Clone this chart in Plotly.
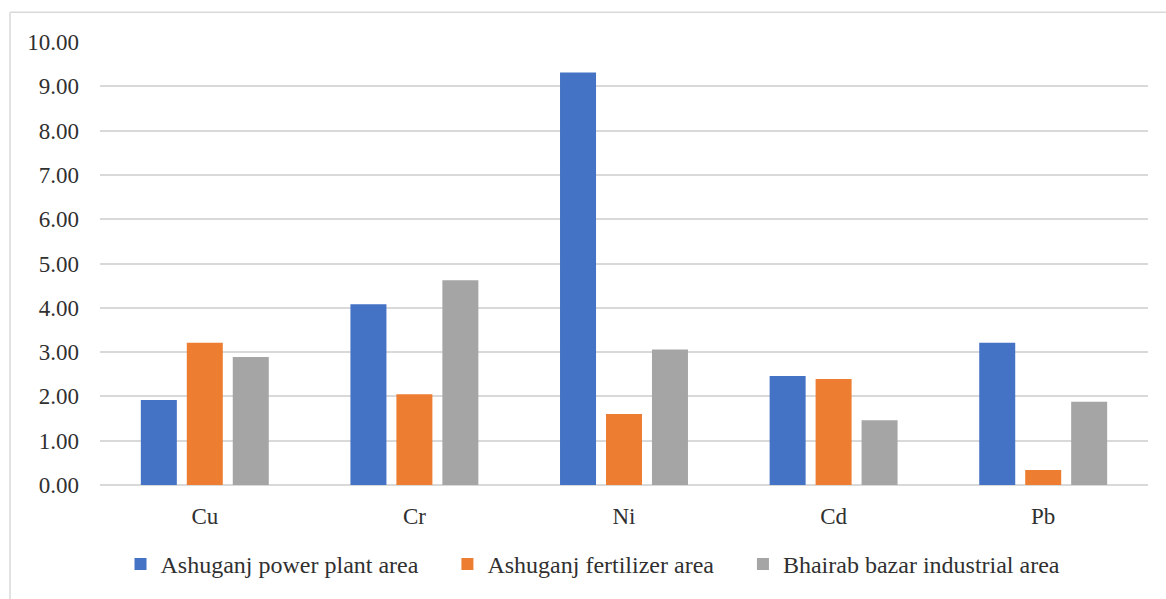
import plotly.graph_objects as go

# Heavy metal concentrations by element and sampling area
metals = ["Cu", "Cr", "Ni", "Cd", "Pb"]
power_plant = [1.92, 4.08, 9.31, 2.46, 3.21]
fertilizer = [3.21, 2.05, 1.60, 2.39, 0.34]
bhairab = [2.89, 4.62, 3.06, 1.46, 1.88]
y_ticks = [0, 1, 2, 3, 4, 5, 6, 7, 8, 9, 10]
area_names = ["Ashuganj power plant area", "Ashuganj fertilizer area",
              "Bhairab bazar industrial area"]
colors = ["#4472C4", "#ED7D31", "#A5A5A5"]

W, H = 1166, 599
ML, MR, MT, MB = 100, 18, 42, 111
plot_w = W - ML - MR
plot_h = H - MT - MB

# Non-breaking spaces widen the gap between horizontal legend entries
pad = "\u00a0" * 4

fig = go.Figure()
for i, (name, vals, color) in enumerate(zip(area_names, [power_plant, fertilizer, bhairab], colors)):
    label = name + (pad if i < len(area_names) - 1 else "")
    fig.add_trace(go.Bar(x=metals, y=vals, name=label, marker_color=color,
                         marker_line_width=0))

tick_font = dict(family="Liberation Serif", size=23, color="#303030")
legend_font = dict(family="Liberation Serif", size=24, color="#303030")

fig.update_layout(
    width=W, height=H,
    margin=dict(l=ML, r=MR, t=MT, b=MB, pad=0),
    paper_bgcolor="white", plot_bgcolor="white",
    font=tick_font,
    barmode="group", bargap=0.342, bargroupgap=0.217,
    showlegend=True,
    legend=dict(orientation="h", x=(593 - ML) / plot_w, xanchor="center",
                y=(MT + plot_h - 568) / plot_h, yanchor="middle",
                font=legend_font, traceorder="normal", itemclick=False),
    xaxis=dict(showgrid=False, showline=False, zeroline=False,
               ticks="", ticklabelstandoff=15, tickfont=tick_font),
    yaxis=dict(range=[0, 10], tickvals=y_ticks,
               ticktext=[f"{v:.2f}" for v in y_ticks],
               showgrid=True, gridcolor="#d9d9d9", gridwidth=1.5,
               zeroline=True, zerolinecolor="#d9d9d9", zerolinewidth=1.5,
               showline=False, ticks="", ticklabelstandoff=20, tickfont=tick_font),
)

# Light frame around the chart (top and left edges)
left_px, top_px = 10, 12
x_left = (left_px - ML) / plot_w
y_top = (MT + plot_h - top_px) / plot_h
y_bottom = (MT + plot_h - (H + 5)) / plot_h
x_right = (W + 5 - ML) / plot_w
line_style = dict(color="#d9d9d9", width=1.5)
fig.add_shape(type="line", xref="paper", yref="paper",
              x0=x_left, x1=x_right, y0=y_top, y1=y_top, line=line_style)
fig.add_shape(type="line", xref="paper", yref="paper",
              x0=x_left, x1=x_left, y0=y_bottom, y1=y_top, line=line_style)

fig.write_html("out.html")
